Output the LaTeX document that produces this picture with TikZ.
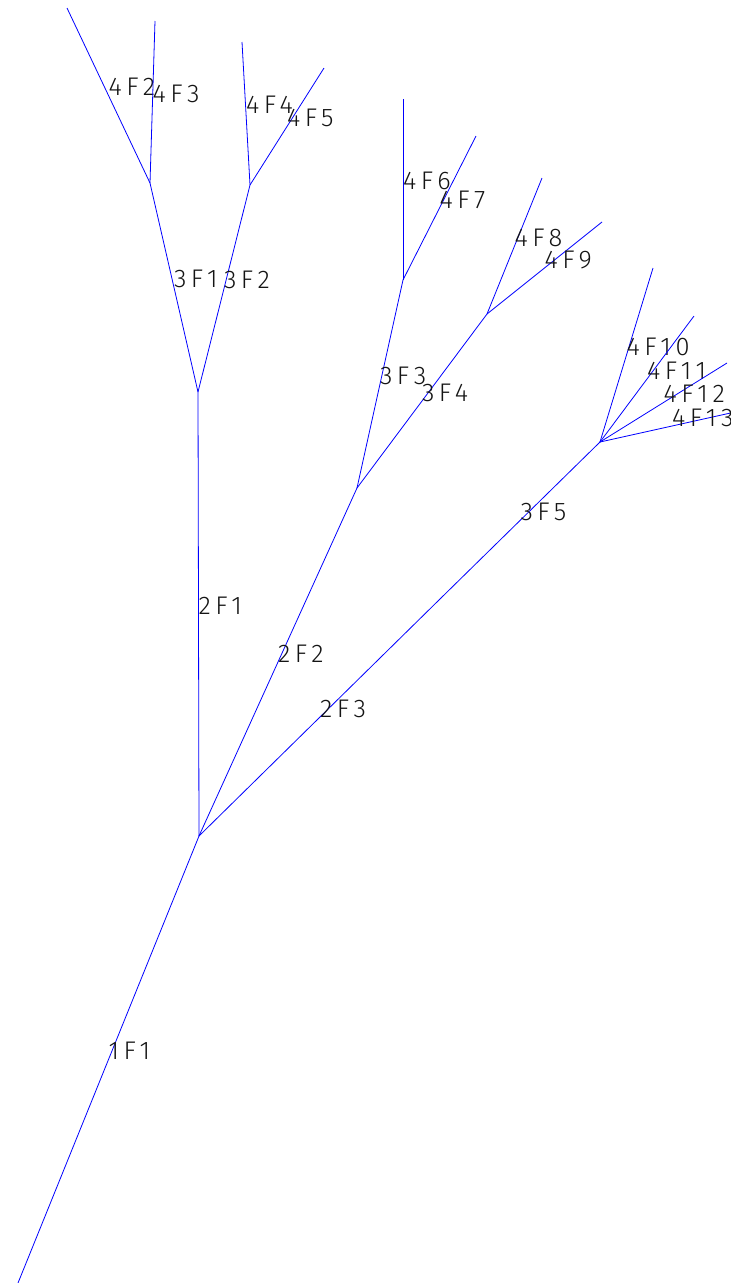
\documentclass[tikz,border=0pt]{standalone}
\usepackage{fontspec}
\usepackage{xcolor}
\usepackage{tikz}
\usetikzlibrary{positioning, calc}
\newfontfamily\cadfont{Fira Sans}[UprightFont=* Light, LetterSpace=18]
\definecolor{mybranch}{RGB}{0,0,255}
\definecolor{mytext}{RGB}{20,20,20}
\tikzset{
  branch/.style={draw=mybranch, line width=0.8pt},
  lbl/.style={font=\cadfont\fontsize{25.5}{25.5}\selectfont, text=mytext,
    anchor=base west, inner sep=0pt, outer sep=0pt}
}
\begin{document}
\begin{tikzpicture}[x=1pt, y=-1pt]
  \useasboundingbox (0,0) rectangle (731,1283);

  % Joints
  \coordinate (root) at (18,1283);
  \coordinate (j1) at (199,836);
  \coordinate (j21) at (198,392);
  \coordinate (j22) at (357,488);
  \coordinate (j23) at (441,598);
  \coordinate (j31) at (150,183);
  \coordinate (j32) at (250,185);
  \coordinate (j33) at (403,280);
  \coordinate (j34) at (487,314);
  \coordinate (j35) at (600,442);

  % Tips
  \coordinate (tip2) at (67,8);
  \coordinate (tip3) at (155,21);
  \coordinate (tip4) at (242,42);
  \coordinate (tip5) at (324,68);
  \coordinate (tip6) at (403,99);
  \coordinate (tip7) at (476,136);
  \coordinate (tip8) at (542,178);
  \coordinate (tip9) at (602,222);
  \coordinate (tip10) at (653,268);
  \coordinate (tip11) at (694,316);
  \coordinate (tip12) at (727,363);
  \coordinate (tip13) at (744,410);

  % Trunk and first branches
  \draw[branch] (root) -- node[lbl] (l1F1) {1F1} (j1);
  \draw[branch] (j1) -- node[lbl] (l2F1) {2F1} (j21);
  \draw[branch] (j1) -- node[lbl] (l2F2) {2F2} (j22);
  \draw[branch] (j1) -- node[lbl] (l2F3) {2F3} (j23);

  % Second branches
  \draw[branch] (j21) -- node[lbl] (l3F1) {3F1} (j31);
  \draw[branch] (j21) -- node[lbl] (l3F2) {3F2} (j32);
  \draw[branch] (j22) -- node[lbl] (l3F3) {3F3} (j33);
  \draw[branch] (j22) -- node[lbl] (l3F4) {3F4} (j34);
  \draw[branch] (j23) -- node[lbl] (l3F5) {3F5} (j35);

  % Twigs
  \draw[branch] (j31) -- node[lbl] (l4F2) {4F2} (tip2);
  \draw[branch] (j31) -- node[lbl] (l4F3) {4F3} (tip3);
  \draw[branch] (j32) -- node[lbl] (l4F4) {4F4} (tip4);
  \draw[branch] (j32) -- node[lbl] (l4F5) {4F5} (tip5);
  \draw[branch] (j33) -- node[lbl] (l4F6) {4F6} (tip6);
  \draw[branch] (j33) -- node[lbl] (l4F7) {4F7} (tip7);
  \draw[branch] (j34) -- node[lbl] (l4F8) {4F8} (tip8);
  \draw[branch] (j34) -- node[lbl] (l4F9) {4F9} (tip9);
  \draw[branch] (j35) -- node[lbl] (l4F10) {4F10} (tip10);
  \draw[branch] (j35) -- node[lbl] (l4F11) {4F11} (tip11);
  \draw[branch] (j35) -- node[lbl] (l4F12) {4F12} (tip12);
  \draw[branch] (j35) -- node[lbl] (l4F13) {4F13} (tip13);

\end{tikzpicture}
\end{document}
